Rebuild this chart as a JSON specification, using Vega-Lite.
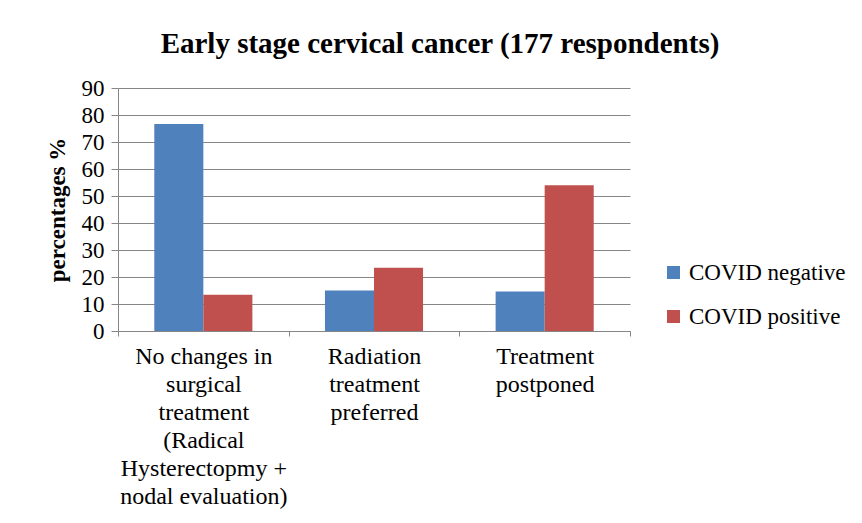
{
  "$schema": "https://vega.github.io/schema/vega-lite/v6.json",
  "width": 512,
  "height": 243,
  "autosize": {"type": "none"},
  "padding": {"left": 118, "top": 88, "right": 232, "bottom": 192},
  "background": "white",
  "title": {
    "text": "Early stage cervical cancer (177 respondents)",
    "font": "Liberation Serif",
    "fontSize": 29,
    "fontWeight": "bold",
    "color": "black",
    "anchor": "middle",
    "frame": "group",
    "dx": 66,
    "offset": 18
  },
  "data": {
    "values": [
      {"category": "No changes in surgical treatment (Radical Hysterectopmy + nodal evaluation)", "status": "COVID negative", "percent": 76.7},
      {"category": "No changes in surgical treatment (Radical Hysterectopmy + nodal evaluation)", "status": "COVID positive", "percent": 13.4},
      {"category": "Radiation treatment preferred", "status": "COVID negative", "percent": 15.0},
      {"category": "Radiation treatment preferred", "status": "COVID positive", "percent": 23.4},
      {"category": "Treatment postponed", "status": "COVID negative", "percent": 14.6},
      {"category": "Treatment postponed", "status": "COVID positive", "percent": 54.0}
    ]
  },
  "mark": {"type": "bar"},
  "encoding": {
    "x": {
      "field": "category",
      "type": "nominal",
      "sort": null,
      "scale": {"paddingInner": 0, "paddingOuter": 0},
      "axis": {
        "title": null,
        "labelAngle": 0,
        "labelFont": "Liberation Serif",
        "labelFontSize": 24,
        "labelColor": "black",
        "labelLineHeight": 28,
        "labelBaseline": "top",
        "labelPadding": 8,
        "labelLimit": 300,
        "tickBand": "extent",
        "tickSize": 5,
        "tickColor": "#868686",
        "domainColor": "#868686",
        "grid": false,
        "labelExpr": "datum.extra ? '' : datum.value == 'Radiation treatment preferred' ? ['Radiation','treatment','preferred'] : datum.value == 'Treatment postponed' ? ['Treatment','postponed'] : ['No changes in','surgical','treatment','(Radical','Hysterectopmy +','nodal evaluation)']"
      }
    },
    "xOffset": {
      "field": "status",
      "type": "nominal",
      "scale": {"paddingInner": 0, "paddingOuter": 0.74}
    },
    "y": {
      "field": "percent",
      "type": "quantitative",
      "scale": {"domain": [0, 90]},
      "axis": {
        "title": "percentages %",
        "titleFont": "Liberation Serif",
        "titleFontSize": 23,
        "titleFontWeight": "bold",
        "titleColor": "black",
        "titlePadding": 12,
        "values": [0, 10, 20, 30, 40, 50, 60, 70, 80, 90],
        "labelFont": "Liberation Serif",
        "labelFontSize": 23,
        "labelColor": "black",
        "labelPadding": 7,
        "tickSize": 7,
        "tickColor": "#868686",
        "domainColor": "#868686",
        "gridColor": "#868686",
        "gridWidth": 1.2
      }
    },
    "color": {
      "field": "status",
      "type": "nominal",
      "scale": {"domain": ["COVID negative", "COVID positive"], "range": ["#4F81BD", "#C0504D"]},
      "legend": {
        "title": null,
        "orient": "none",
        "legendX": 544,
        "legendY": 173,
        "symbolType": "square",
        "symbolSize": 169,
        "symbolStrokeWidth": 0,
        "labelFont": "Liberation Serif",
        "labelFontSize": 23,
        "labelColor": "black",
        "labelOffset": 4,
        "labelLimit": 300,
        "rowPadding": 20
      }
    }
  },
  "config": {
    "view": {"stroke": null}
  }
}
